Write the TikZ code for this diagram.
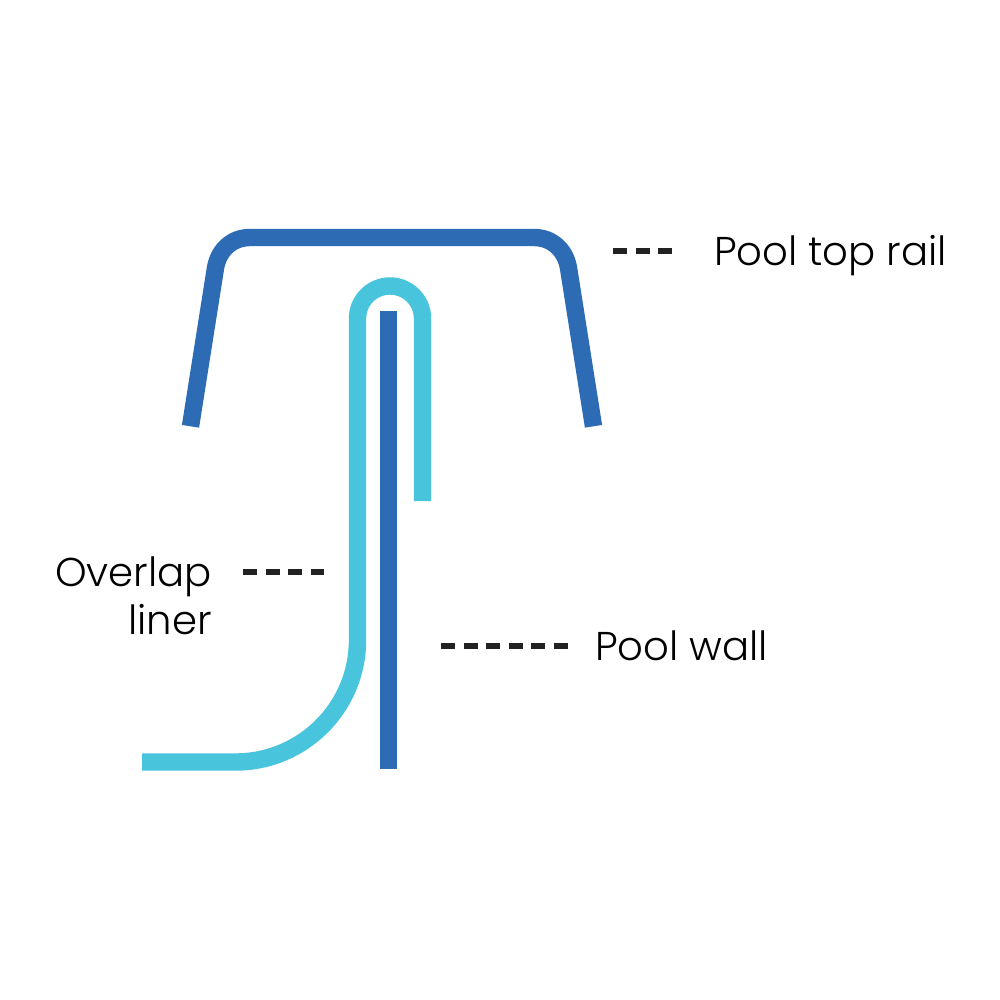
\documentclass[tikz,border=0pt]{standalone}
\usepackage{fontspec}
\setmainfont{Poppins Light}
\definecolor{railblue}{HTML}{2E6BB5}
\definecolor{linercyan}{HTML}{48C5DD}
\definecolor{dashgrey}{HTML}{222222}
\tikzset{
  rail/.style={draw=railblue,line width=17.4pt,line cap=butt,line join=round},
  liner/.style={draw=linercyan,line width=17.4pt,line cap=butt,line join=round},
  leader/.style={draw=dashgrey,line width=5.5pt,dash pattern=on 14pt off 8.5pt},
  lbl/.style={font=\fontsize{40.2}{48}\selectfont,text=black,inner sep=0pt,outer sep=0pt}
}
\begin{document}
\begin{tikzpicture}[x=1pt,y=-1pt]
\useasboundingbox (0,0) rectangle (1000,1000);
\fill[white] (0,0) rectangle (1000,1000);
% top rail
\draw[rail] (190.5,426.3) -- (215.5,268) .. controls (218.5,250) and (232,237.5) .. (250,237.5)
  -- (534,237.5) .. controls (552,237.5) and (565.5,250) .. (568.5,268) -- (593.5,426.3);
% pool wall
\coordinate (walltop) at (388.5,310.7);
\coordinate (wallbot) at (388.5,769);
\draw[rail] (walltop) -- (wallbot);
% liner
\draw[liner] (422.5,501) -- (422.5,318.5) arc[start angle=0,end angle=-180,radius=32.5]
  -- (357.5,640) arc[start angle=0,end angle=90,radius=122] -- (142,762);
% labels
\node[lbl,anchor=base west] (railtext) at (714,265) {Pool top rail};
\node[lbl,anchor=base east,align=right] (over1) at (212,586) {Overlap};
\node[lbl,anchor=base east] (over2) at (212,634) {liner};
\node[lbl,anchor=base west] (walltext) at (595,660) {Pool wall};
% leaders
\coordinate (a0) at (613,251); \coordinate (a1) at (672,251);
\coordinate (b0) at (243,572); \coordinate (b1) at (324,572);
\coordinate (c0) at (441,646); \coordinate (c1) at (568,646);
\draw[leader] (a0) -- (a1);
\draw[leader] (b0) -- (b1);
\draw[leader] (c0) -- (c1);
\end{tikzpicture}
\end{document}
